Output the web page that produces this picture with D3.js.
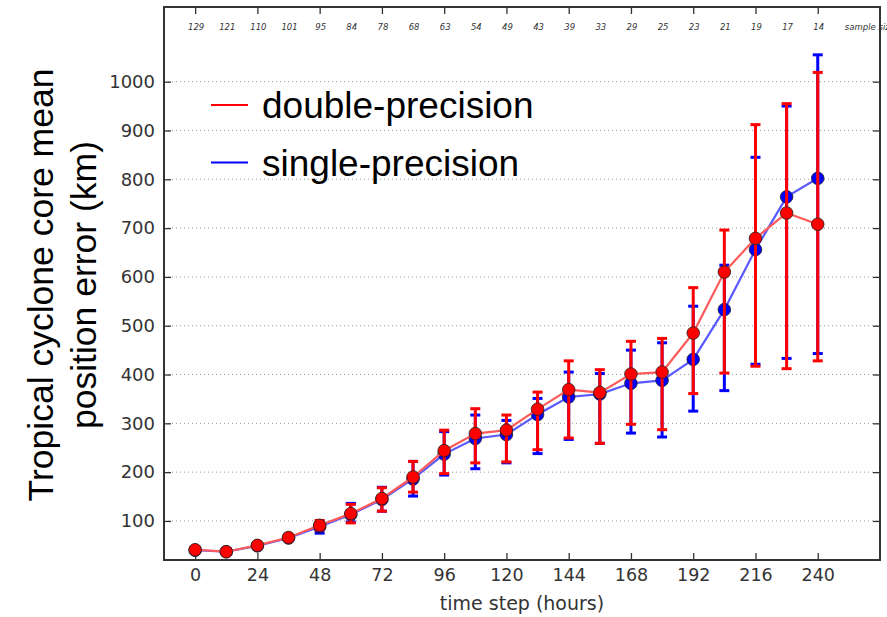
<!DOCTYPE html>
<html>
<head>
<meta charset="utf-8">
<script src="https://cdn.jsdelivr.net/npm/d3@7"></script>
<style>
  body { margin: 0; background: #fff; }
  svg { display: block; }
</style>
</head>
<body>
<div id="chart"></div>
<script>
// forecast lead time (hours)
const hours = [0, 12, 24, 36, 48, 60, 72, 84, 96, 108, 120, 132, 144, 156, 168, 180, 192, 204, 216, 228, 240]
const sampleSize = [129, 121, 110, 101, 95, 84, 78, 68, 63, 54, 49, 43, 39, 33, 29, 25, 23, 21, 19, 17, 14]

// double precision run
const doubleMean = [41, 37, 50, 66, 91, 115, 146, 190, 244, 279, 286, 329, 369, 363, 401, 405, 485, 610, 679, 731, 708]
const doubleUpper = [45, 40, 54, 70, 101, 134, 168, 222, 286, 330, 317, 364, 428, 410, 468, 474, 578, 696, 912, 955, 1019]
const doubleLower = [37, 34, 46, 62, 82, 96, 120, 159, 197, 219, 221, 246, 270, 259, 298, 287, 361, 403, 417, 412, 428]

// single precision run
const singleMean = [40, 37, 49, 65, 88, 113, 144, 186, 237, 269, 277, 318, 354, 360, 382, 388, 431, 533, 656, 764, 802]
const singleUpper = [44, 40, 53, 69, 97, 136, 169, 222, 283, 317, 306, 351, 405, 402, 450, 465, 540, 624, 845, 950, 1055]
const singleLower = [36, 34, 45, 61, 75, 98, 120, 151, 194, 207, 219, 238, 267, 259, 280, 272, 325, 367, 421, 433, 443]

const xTicks = [0, 24, 48, 72, 96, 120, 144, 168, 192, 216, 240]
const yTicks = [100, 200, 300, 400, 500, 600, 700, 800, 900, 1000]

const W = 887
const H = 617
const margin = { top: 7, left: 164, right: 7, bottom: 57 }
const width = W - margin.left - margin.right
const height = H - margin.top - margin.bottom

const svg = d3
  .select('#chart')
  .append('svg')
  .attr('width', W)
  .attr('height', H)

const g = svg
  .append('g')
  .attr('transform', 'translate(' + margin.left + ',' + margin.top + ')')

const x = d3.scaleLinear().domain([-12, 264]).range([0, width])
const y = d3.scaleLinear().domain([20, 1153]).range([height, 0])

// horizontal dotted grid
g.append('g')
  .selectAll('line')
  .data(yTicks)
  .join('line')
  .attr('x1', 0)
  .attr('x2', width)
  .attr('y1', d => y(d))
  .attr('y2', d => y(d))
  .style('stroke', '#999')
  .style('stroke-width', 1)
  .style('stroke-dasharray', '1,3')

//////////////////////////////// AXES ////////////////////////////////
const tickStyle = sel => {
  sel.select('.domain').remove()
  sel.selectAll('.tick line').style('stroke', '#333').style('stroke-width', 1.3)
  sel.selectAll('.tick text').style('fill', '#333').style('font-family', 'DejaVu Sans')
}

g.append('g')
  .attr('transform', 'translate(0,' + height + ')')
  .call(d3.axisBottom(x).tickValues(xTicks).tickSize(-7).tickPadding(9))
  .call(tickStyle)
  .selectAll('text')
  .style('font-size', '17.5px')

g.append('g')
  .call(d3.axisTop(x).tickValues(xTicks).tickSize(-7).tickFormat(''))
  .call(tickStyle)

g.append('g')
  .call(d3.axisLeft(y).tickValues(yTicks).tickSize(-7).tickPadding(9).tickFormat(d3.format('d')))
  .call(tickStyle)
  .selectAll('text')
  .style('font-size', '18px')

g.append('g')
  .attr('transform', 'translate(' + width + ',0)')
  .call(d3.axisRight(y).tickValues(yTicks).tickSize(-7).tickFormat(''))
  .call(tickStyle)

// frame
g.append('rect')
  .attr('width', width)
  .attr('height', height)
  .style('fill', 'none')
  .style('stroke', '#333')
  .style('stroke-width', 2)

// sample size along the top
g.append('g')
  .selectAll('text')
  .data(sampleSize)
  .join('text')
  .attr('x', (d, i) => x(hours[i]) + 1)
  .attr('y', 23)
  .attr('text-anchor', 'middle')
  .style('font-family', 'DejaVu Sans')
  .style('font-style', 'italic')
  .style('font-size', '8.5px')
  .style('fill', '#333')
  .text(d => d)

g.append('text')
  .attr('x', x(252) - 4)
  .attr('y', 23)
  .style('font-family', 'DejaVu Sans')
  .style('font-style', 'italic')
  .style('font-size', '8.5px')
  .style('fill', '#333')
  .text('sample size')

//////////////////////////////// SERIES ////////////////////////////////
const series = [
  { mean: singleMean, upper: singleUpper, lower: singleLower, color: '#0000ff', line: '#5a5aff' },
  { mean: doubleMean, upper: doubleUpper, lower: doubleLower, color: '#ff0000', line: '#ff5a5a' }
]

const line = d3.line().x(d => x(d[0])).y(d => y(d[1]))

series.forEach(s => {
  const pts = hours.map((h, i) => [h, s.mean[i], s.upper[i], s.lower[i]])
  const layer = g.append('g')

  layer.append('path')
    .datum(pts)
    .attr('d', line)
    .style('fill', 'none')
    .style('stroke', s.line)
    .style('stroke-width', 2.2)

  const bars = layer.append('g')
    .selectAll('g')
    .data(pts)
    .join('g')
    .style('stroke', s.color)
    .style('stroke-width', 3)

  bars.append('line')
    .attr('x1', d => x(d[0]))
    .attr('x2', d => x(d[0]))
    .attr('y1', d => y(d[2]))
    .attr('y2', d => y(d[3]))
  bars.append('line')
    .attr('x1', d => x(d[0]) - 5)
    .attr('x2', d => x(d[0]) + 5)
    .attr('y1', d => y(d[2]))
    .attr('y2', d => y(d[2]))
  bars.append('line')
    .attr('x1', d => x(d[0]) - 5)
    .attr('x2', d => x(d[0]) + 5)
    .attr('y1', d => y(d[3]))
    .attr('y2', d => y(d[3]))

  layer.append('g')
    .selectAll('circle')
    .data(pts)
    .join('circle')
    .attr('cx', d => x(d[0]))
    .attr('cy', d => y(d[1]))
    .attr('r', 6.3)
    .style('fill', s.color)
    .style('stroke', '#222')
    .style('stroke-opacity', 0.8)
    .style('stroke-width', 1)
})

//////////////////////////////// LEGEND ////////////////////////////////
const legendItems = [
  { label: 'double-precision', color: '#ff0000' },
  { label: 'single-precision', color: '#0000ff' }
]

const legend = svg.append('g')
  .selectAll('g')
  .data(legendItems)
  .join('g')
  .attr('transform', (d, i) => 'translate(211,' + (105 + i * 57.5) + ')')

legend.append('line')
  .attr('x1', 0)
  .attr('x2', 37)
  .style('stroke', d => d.color)
  .style('stroke-width', 2)

legend.append('text')
  .attr('x', 51)
  .attr('y', 13)
  .style('font-family', 'Liberation Sans, Arial, sans-serif')
  .style('font-size', '37px')
  .style('fill', '#000')
  .text(d => d.label)

// axis titles
svg.append('text')
  .attr('x', margin.left + width / 2)
  .attr('y', 610)
  .attr('text-anchor', 'middle')
  .style('font-family', 'DejaVu Sans')
  .style('font-size', '19px')
  .style('fill', '#333')
  .text('time step (hours)')

const yTitle = svg.append('text')
  .attr('transform', 'translate(0,285) rotate(-90)')
  .attr('text-anchor', 'middle')
  .style('font-family', 'Liberation Sans, Arial, sans-serif')
  .style('font-size', '35.5px')
  .style('fill', '#000')

yTitle.append('tspan').attr('x', 0).attr('y', 53).text('Tropical cyclone core mean')
yTitle.append('tspan').attr('x', 0).attr('y', 96).text('position error (km)')
</script>
</body>
</html>
